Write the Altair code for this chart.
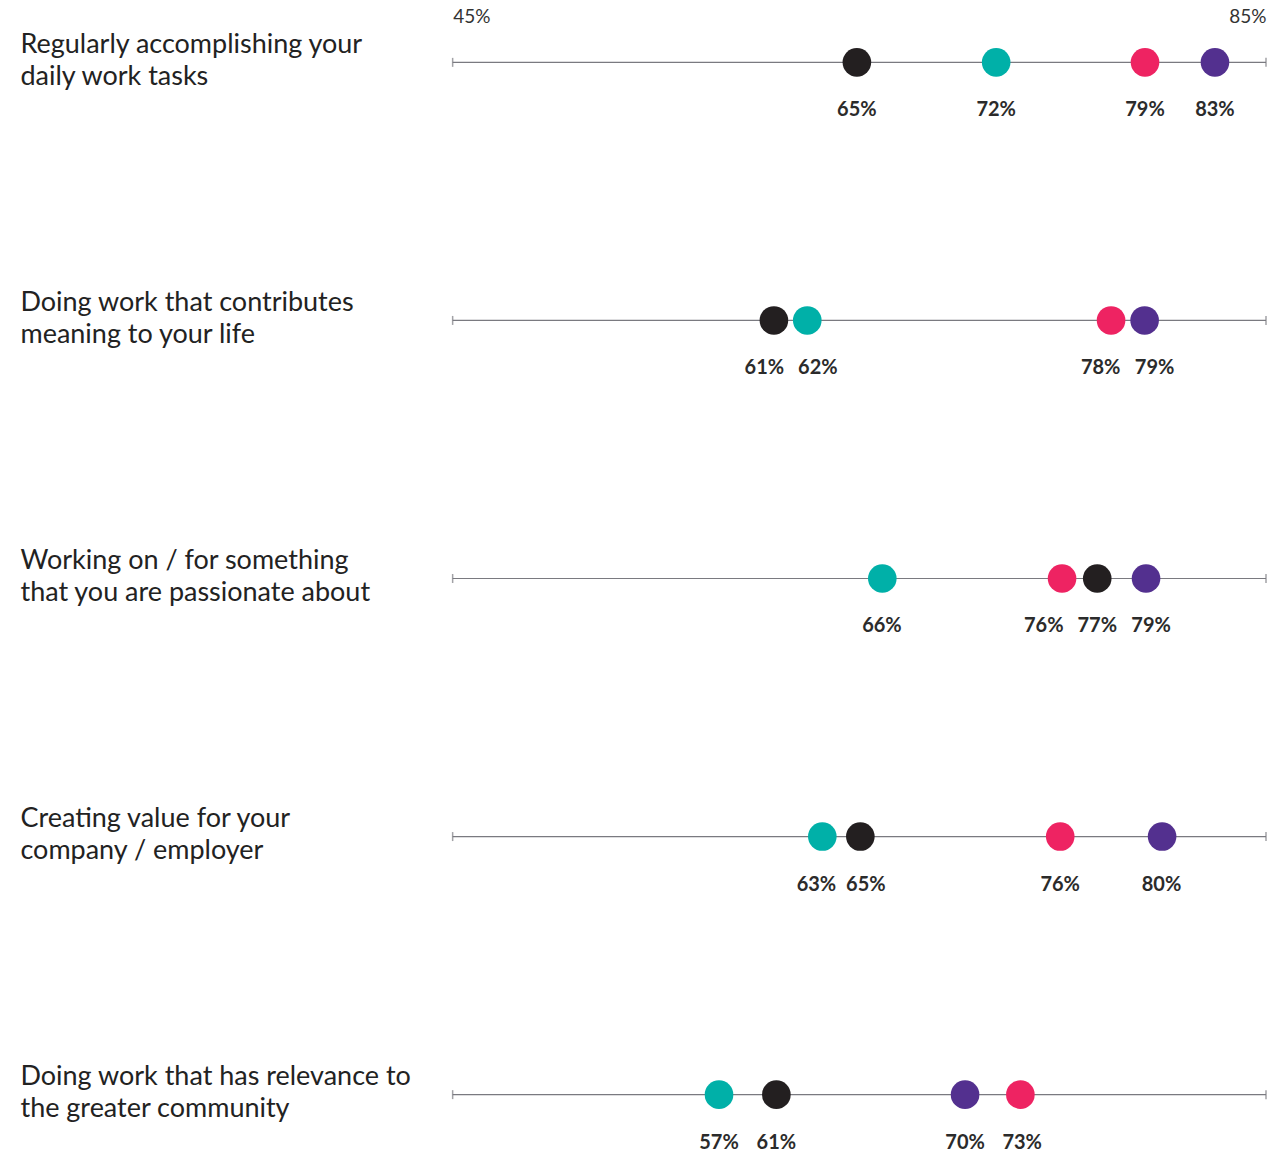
import altair as alt
import pandas as pd

categories = [
    "Regularly accomplishing your|daily work tasks",
    "Doing work that contributes|meaning to your life",
    "Working on / for something|that you are passionate about",
    "Creating value for your|company / employer",
    "Doing work that has relevance to|the greater community",
]
groups = ["Black", "Teal", "Pink", "Purple"]
group_colors = ["#231f20", "#00b0a8", "#ee2362", "#53308f"]

# dot positions (percent), per category, in group order
black_vals = [64.88, 60.80, 76.70, 65.05, 60.92]
teal_vals = [71.73, 62.44, 66.13, 63.18, 58.10]
pink_vals = [79.05, 77.38, 74.97, 74.88, 72.92]
purple_vals = [82.49, 79.03, 79.10, 79.89, 70.20]

# printed labels
black_labels = ["65%", "61%", "77%", "65%", "61%"]
teal_labels = ["72%", "62%", "66%", "63%", "57%"]
pink_labels = ["79%", "78%", "76%", "76%", "73%"]
purple_labels = ["83%", "79%", "79%", "80%", "70%"]

# where each printed label sits along the scale (percent)
black_label_pos = [64.88, 60.33, 76.70, 65.32, 60.92]
teal_label_pos = [71.73, 62.96, 66.11, 62.89, 58.10]
pink_label_pos = [79.05, 76.87, 74.07, 74.88, 73.01]
purple_label_pos = [82.49, 79.52, 79.35, 79.86, 70.20]

axis_min, axis_max = 45, 85

rows = []
for g, vals, labs, lpos in zip(groups,
                               [black_vals, teal_vals, pink_vals, purple_vals],
                               [black_labels, teal_labels, pink_labels, purple_labels],
                               [black_label_pos, teal_label_pos, pink_label_pos, purple_label_pos]):
    for c, v, l, p in zip(categories, vals, labs, lpos):
        rows.append({"category": c, "group": g, "value": v, "label": l, "label_pos": p})
df = pd.DataFrame(rows)

lines = pd.DataFrame({"category": categories,
                      "lo": [axis_min] * len(categories),
                      "hi": [axis_max] * len(categories)})
ends = pd.DataFrame({"category": categories * 2,
                     "end": [axis_min] * len(categories) + [axis_max] * len(categories)})

xscale = alt.Scale(domain=[axis_min, axis_max], nice=False, zero=False)
yscale = alt.Scale(type="point", padding=0.116)
ysort = categories

y_enc = alt.Y("category:N", sort=ysort, scale=yscale,
              axis=alt.Axis(title=None, domain=False, ticks=False, tickSize=0,
                            labelAlign="left", labelPadding=433,
                            labelBaseline="middle", labelOffset=-18,
                            labelExpr="split(datum.label, '|')",
                            labelLineHeight=32, labelFontSize=27,
                            labelFont="Lato", labelColor="#222222",
                            labelLimit=500))

x_axis = alt.Axis(orient="top", title=None, values=[axis_min, axis_max],
                  labelExpr="datum.value + '%'", labelFlush=True,
                  grid=False, domain=False, ticks=False, tickSize=0,
                  labelPadding=6, labelFontSize=19, labelFont="Lato",
                  labelColor="#333333")

rule = alt.Chart(lines).mark_rule(color="#7a7a80", strokeWidth=1.2).encode(
    x=alt.X("lo:Q", scale=xscale, axis=x_axis),
    x2="hi:Q",
    y=y_enc,
)

tick = alt.Chart(ends).mark_tick(color="#7a7a80", thickness=1.5, size=9).encode(
    x=alt.X("end:Q", scale=xscale),
    y=alt.Y("category:N", sort=ysort, scale=yscale),
)

dots = alt.Chart(df).mark_circle(size=820, opacity=1).encode(
    x=alt.X("value:Q", scale=xscale),
    y=alt.Y("category:N", sort=ysort, scale=yscale),
    color=alt.Color("group:N", scale=alt.Scale(domain=groups, range=group_colors),
                    legend=None),
)

texts = alt.Chart(df).mark_text(dy=48, fontSize=20, fontWeight="bold",
                                font="Lato", color="#2b2b2b",
                                baseline="middle").encode(
    x=alt.X("label_pos:Q", scale=xscale),
    y=alt.Y("category:N", sort=ysort, scale=yscale),
    text="label:N",
)

chart = alt.layer(rule, tick, dots, texts).properties(
    width=814, height=1093,
    background="white",
    padding={"left": 20, "top": 7, "right": 1, "bottom": 0},
).configure_view(stroke=None, strokeWidth=0)

chart.save("out.html", embed_options={"renderer": "svg", "actions": False})
